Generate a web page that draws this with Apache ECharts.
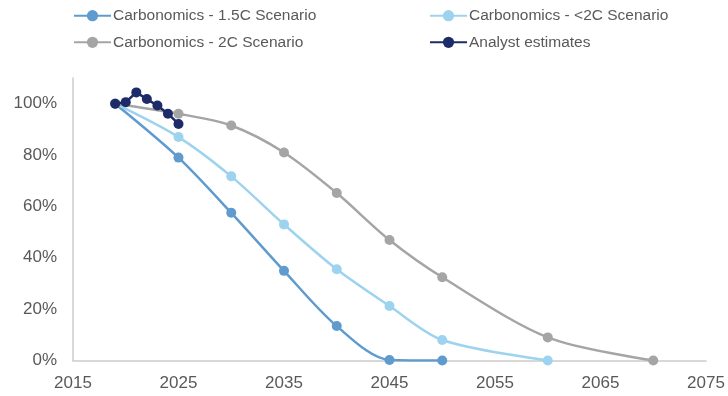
<!DOCTYPE html>
<html><head><meta charset="utf-8">
<script src="https://cdn.jsdelivr.net/npm/echarts@6/dist/echarts.min.js"></script>
<style>html,body{margin:0;padding:0;background:#fff}#c{width:728px;height:396px}</style>
</head><body><div id="c"></div>
<script>
const years15 = [2019, 2025, 2030, 2035, 2040, 2045, 2050];
const vals15 = [100, 79, 57.5, 34.9, 13.4, 0.2, 0];
const yearsLt2 = [2019, 2025, 2030, 2035, 2040, 2045, 2050, 2060];
const valsLt2 = [100, 87, 71.7, 53, 35.5, 21.2, 8, 0];
const years2 = [2019, 2025, 2030, 2035, 2040, 2045, 2050, 2060, 2070];
const vals2 = [100, 96.1, 91.5, 81, 65.2, 46.9, 32.4, 9, 0];
const yearsAn = [2019, 2020, 2021, 2022, 2023, 2024, 2025];
const valsAn = [100, 100.6, 104.4, 101.8, 99.3, 96.1, 92.1];
const names = ['Carbonomics - 1.5C Scenario', 'Carbonomics - <2C Scenario', 'Carbonomics - 2C Scenario', 'Analyst estimates'];
const colors = ['#5f9bcf', '#9dd3ef', '#a5a5a5', '#1d2b68'];

const pair = (xs, ys) => xs.map((x, i) => [x, ys[i]]);
const font = 'Liberation Sans, Arial, sans-serif';
const chart = echarts.init(document.getElementById('c'));
const mk = (i, xs, ys, smooth) => ({
  name: names[i], type: 'line', data: pair(xs, ys), smooth: smooth,
  symbol: 'circle', symbolSize: 10, color: colors[i],
  lineStyle: {width: 2.5, color: colors[i]}, itemStyle: {color: colors[i]},
  z: i === 3 ? 5 : 2
});
const legendCommon = {
  orient: 'vertical', top: 7.7, itemGap: 10.6, itemWidth: 37, itemHeight: 14, padding: 0,
  textStyle: {fontFamily: font, fontSize: 15.5, lineHeight: 16, color: '#595959', padding: [0, 0, 0, -3]}
};
chart.setOption({
  animation: false,
  legend: [
    Object.assign({}, legendCommon, {left: 73, data: [names[0], names[2]]}),
    Object.assign({}, legendCommon, {left: 429, data: [names[1], names[3]]})
  ],
  grid: {left: 73, right: 22, top: 78, bottom: 35.5},
  xAxis: {
    type: 'value', min: 2015, max: 2075, interval: 10,
    axisLine: {show: true, lineStyle: {color: '#cccccc', width: 1.5}},
    axisTick: {show: false}, splitLine: {show: false},
    axisLabel: {fontFamily: font, fontSize: 17, color: '#595959', margin: 14, formatter: v => String(v)}
  },
  yAxis: {
    type: 'value', min: 0, max: 110, interval: 20,
    axisLine: {show: true, lineStyle: {color: '#cccccc', width: 1.5}},
    axisTick: {show: false}, splitLine: {show: false},
    axisLabel: {fontFamily: font, fontSize: 17, color: '#595959', margin: 16, showMaxLabel: false,
      formatter: v => (v % 20 === 0 ? v + '%' : '')}
  },
  series: [
    mk(0, years15, vals15, 0.3),
    mk(1, yearsLt2, valsLt2, 0.3),
    mk(2, years2, vals2, 0.3),
    mk(3, yearsAn, valsAn, false)
  ]
});
</script></body></html>
